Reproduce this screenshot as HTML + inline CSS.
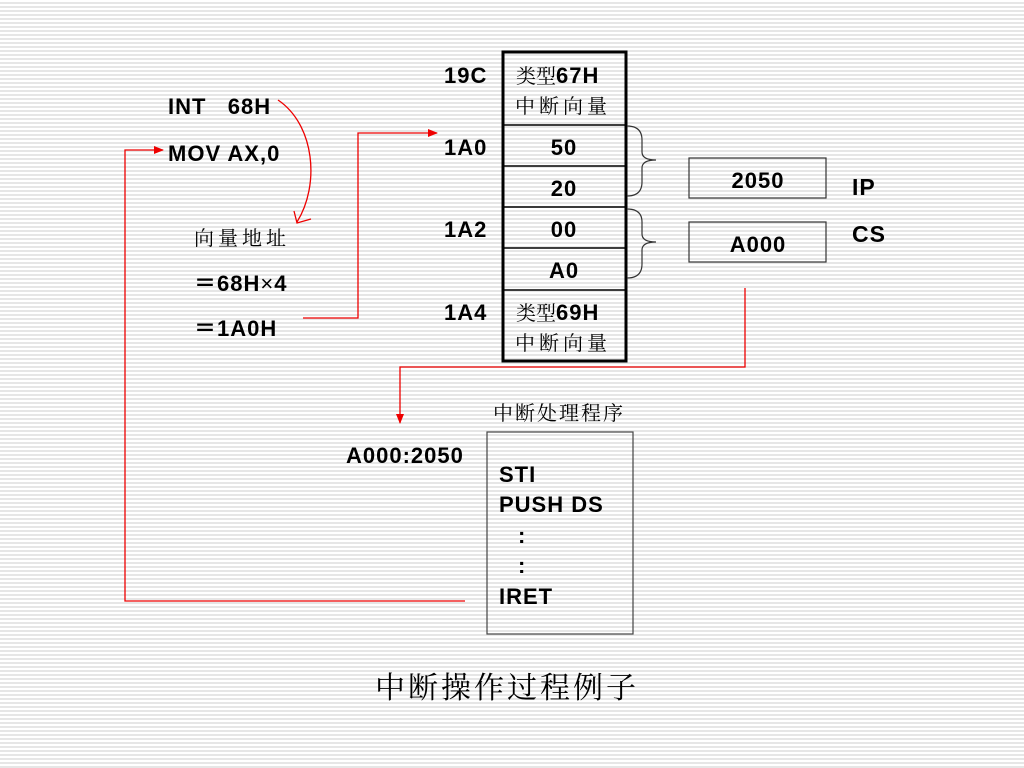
<!DOCTYPE html>
<html><head><meta charset="utf-8"><style>
html,body{margin:0;padding:0;}
body{width:1024px;height:768px;background:repeating-linear-gradient(to bottom,#fff 0,#fff 2px,#e6e6e6 2px,#e6e6e6 4px);}
svg{position:absolute;left:0;top:0;}
text{font-family:"Liberation Sans","Noto Sans CJK SC",sans-serif;font-weight:bold;font-size:22px;letter-spacing:1px;fill:#000;}
.c{font-family:"Liberation Serif","Noto Serif CJK SC","Noto Sans CJK SC",serif;font-weight:normal;font-size:20px;letter-spacing:4px;}
.l{font-family:"Liberation Sans",sans-serif;font-weight:bold;font-size:22px;letter-spacing:1px;}
</style></head><body>
<svg width="1024" height="768" viewBox="0 0 1024 768">
<defs><marker id="a" markerWidth="10" markerHeight="8" refX="9" refY="4" orient="auto" markerUnits="userSpaceOnUse"><path d="M0,0 L10,4 L0,8z" fill="#e00"/></marker></defs>
<rect x="503" y="52" width="123" height="309" fill="none" stroke="#000" stroke-width="3"/>
<g stroke="#000" stroke-width="1.5">
<line x1="503" y1="125" x2="626" y2="125"/><line x1="503" y1="166" x2="626" y2="166"/>
<line x1="503" y1="207" x2="626" y2="207"/><line x1="503" y1="248" x2="626" y2="248"/>
<line x1="503" y1="290" x2="626" y2="290"/></g>
<text x="444" y="83">19C</text><text x="444" y="155">1A0</text><text x="444" y="237">1A2</text><text x="444" y="320">1A4</text>
<text x="516" y="83" class="c" style="letter-spacing:0">类型<tspan class="l">67H</tspan></text>
<text x="515" y="113" class="c">中断向量</text>
<text x="564" y="155" text-anchor="middle">50</text><text x="564" y="196" text-anchor="middle">20</text>
<text x="564" y="237" text-anchor="middle">00</text><text x="564" y="278" text-anchor="middle">A0</text>
<text x="516" y="320" class="c" style="letter-spacing:0">类型<tspan class="l">69H</tspan></text>
<text x="515" y="350" class="c">中断向量</text>
<g fill="none" stroke="#333" stroke-width="1.2">
<path d="M627,126 Q642,126 642,140 L642,152 Q642,160 656,160 Q642,160 642,168 L642,182 Q642,196 627,196"/>
<path d="M627,209 Q642,209 642,222 L642,234 Q642,242 656,242 Q642,242 642,250 L642,264 Q642,278 627,278"/>
</g>
<rect x="689" y="158" width="137" height="40" fill="none" stroke="#333" stroke-width="1.2"/>
<rect x="689" y="222" width="137" height="40" fill="none" stroke="#333" stroke-width="1.2"/>
<text x="758" y="188" text-anchor="middle">2050</text><text x="758" y="252" text-anchor="middle">A000</text>
<text x="852" y="195" style="font-size:23px">IP</text><text x="852" y="242" style="font-size:23px">CS</text>
<text x="168" y="114">INT&#160;&#160;&#160;68H</text>
<text x="168" y="161">MOV AX,0</text>
<text x="194" y="245" class="c">向量地址</text>
<text x="194" y="291">＝68H<tspan style="font-weight:normal">×</tspan>4</text>
<text x="194" y="336">＝1A0H</text>
<g fill="none" stroke="#e00" stroke-width="1.3">
<path d="M303,318 H358 V133 H437" marker-end="url(#a)"/>
<path d="M745,288 V367 H400 V423" marker-end="url(#a)"/>
<path d="M465,601 H125 V150 H163" marker-end="url(#a)"/>
<path d="M278,100 C315,125 320,185 297,222"/>
<path d="M294,211 L297,223 L311,219"/>
</g>
<text x="493" y="420" class="c" style="letter-spacing:2px">中断处理程序</text>
<rect x="487" y="432" width="146" height="202" fill="none" stroke="#444" stroke-width="1.2"/>
<text x="346" y="463">A000:2050</text>
<text x="499" y="482">STI</text><text x="499" y="512">PUSH DS</text>
<text x="518" y="543">:</text><text x="518" y="573">:</text>
<text x="499" y="604">IRET</text>
<text x="507" y="698" class="c" style="font-size:30px;letter-spacing:3px" text-anchor="middle">中断操作过程例子</text>
</svg>
</body></html>
